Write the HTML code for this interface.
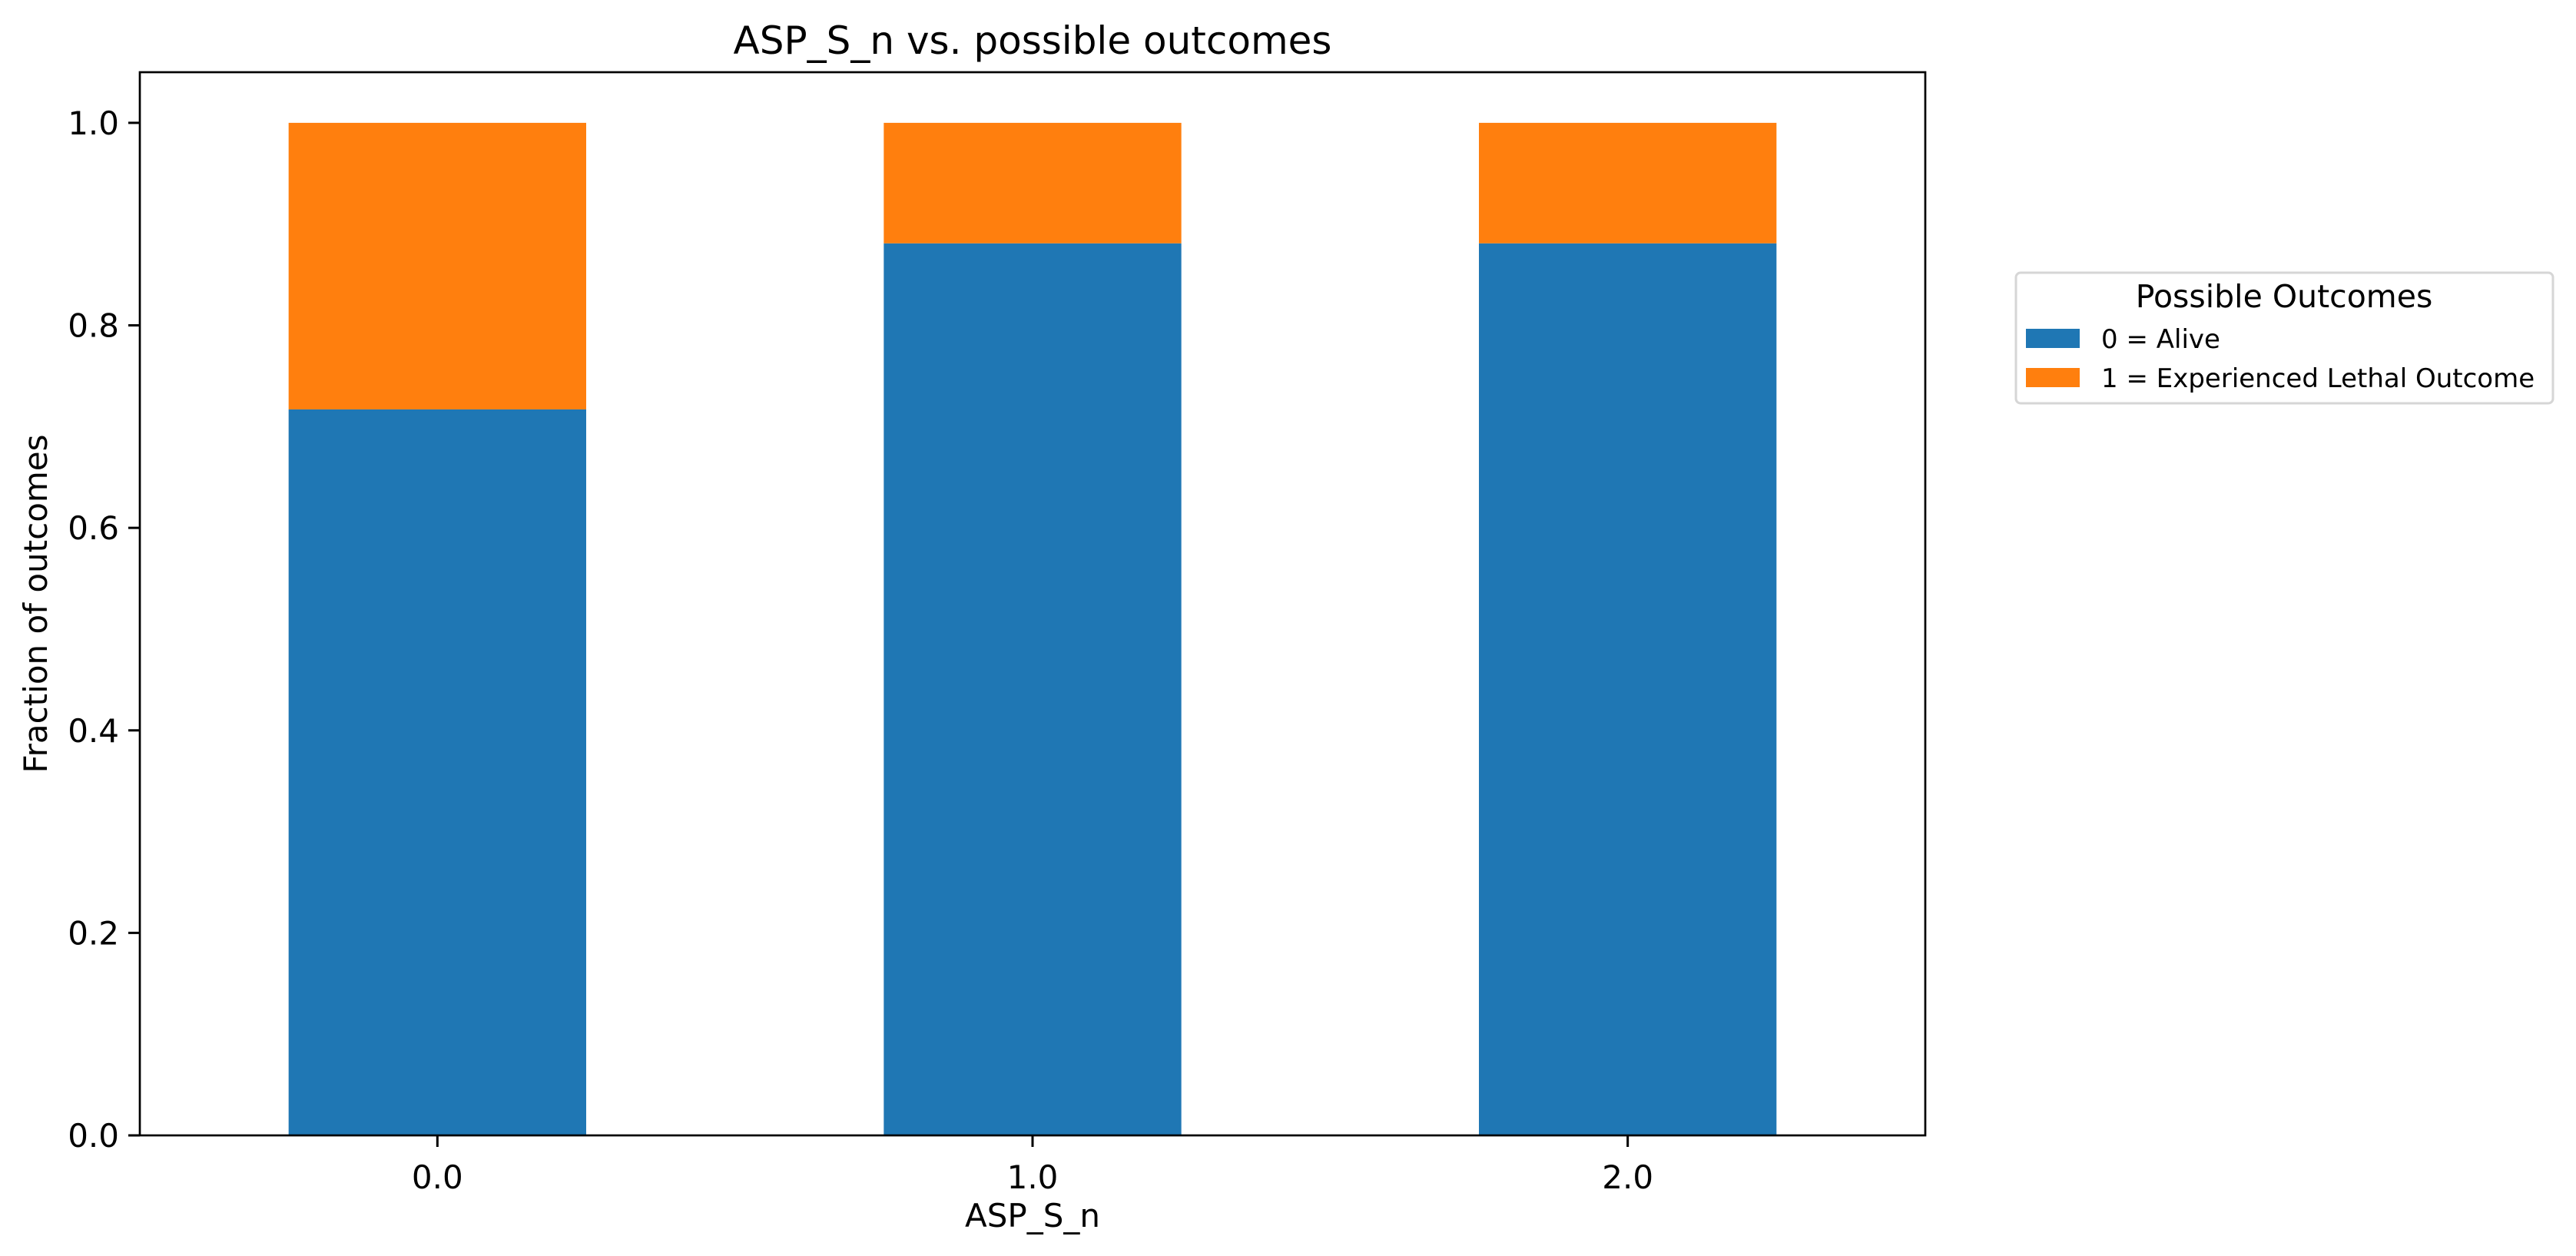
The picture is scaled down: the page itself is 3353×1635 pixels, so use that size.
<!DOCTYPE html>
<html><head><meta charset="utf-8"><style>
html,body{margin:0;padding:0;background:#fff;}
svg{display:block;font-family:"DejaVu Sans","Liberation Sans",sans-serif;}
</style></head><body>
<svg id="chart" width="3353" height="1635" viewBox="0 0 3353 1635" xmlns="http://www.w3.org/2000/svg">
<rect width="3353" height="1635" fill="#fff"/>
<g id="bars"></g>
<g id="axes"></g>
<text x="1344" y="70" font-size="50" text-anchor="middle">ASP_S_n vs. possible outcomes</text>
<text x="1344" y="1597" font-size="42" text-anchor="middle">ASP_S_n</text>
<text x="0" y="0" font-size="42" text-anchor="middle" transform="translate(61,786) rotate(-90)">Fraction of outcomes</text>
<g>
<rect x="2624" y="355" width="699" height="170" rx="6" fill="#fff" stroke="#d6d6d6" stroke-width="3"/>
<text x="2973" y="400" font-size="41" text-anchor="middle">Possible Outcomes</text>
<rect x="2637" y="428" width="70" height="25" fill="#1f77b4"/>
<text x="2735" y="453" font-size="34">0 = Alive</text>
<rect x="2637" y="479" width="70" height="25" fill="#ff7f0e"/>
<text x="2735" y="504" font-size="34">1 = Experienced Lethal Outcome</text>
</g>
</svg>
<script>
const categories = ["0.0", "1.0", "2.0"];
const aliveValues = [0.717, 0.881, 0.881];
const lethalValues = [0.283, 0.119, 0.119];
const yTicks = [0.0, 0.2, 0.4, 0.6, 0.8, 1.0];
const yTickLabels = ["0.0", "0.2", "0.4", "0.6", "0.8", "1.0"];

const NS = "http://www.w3.org/2000/svg";
const L = 182, R = 2506, T = 94, B = 1478;
const xMin = -0.5, xMax = 2.5, yMin = 0, yMax = 1.05;
function xs(v){ return L + (v - xMin) / (xMax - xMin) * (R - L); }
function ys(v){ return B - (v - yMin) / (yMax - yMin) * (B - T); }
function mk(tag, attrs, parent){ const e = document.createElementNS(NS, tag); for (const k in attrs) e.setAttribute(k, attrs[k]); parent.appendChild(e); return e; }

const barsG = document.getElementById("bars");
const axesG = document.getElementById("axes");
const bw = 0.5;
categories.forEach((c, i) => {
  const x0 = xs(i - bw/2), x1 = xs(i + bw/2);
  const a = mk("rect", {x: x0, y: ys(aliveValues[i]), width: x1 - x0, height: ys(0) - ys(aliveValues[i]), fill: "#1f77b4"}, barsG);
  
  
  const top = aliveValues[i] + lethalValues[i];
  const b = mk("rect", {x: x0, y: ys(top), width: x1 - x0, height: ys(aliveValues[i]) - ys(top), fill: "#ff7f0e"}, barsG);
  
  
  const t = mk("line", {x1: xs(i), x2: xs(i), y1: B, y2: B + 15, stroke: "#000", "stroke-width": 3}, axesG);
  
  
  const lb = mk("text", {x: xs(i), y: 1547, "font-size": 42, "text-anchor": "middle"}, axesG);
  lb.textContent = c;
  
  
});
yTicks.forEach((v, i) => {
  const t = mk("line", {x1: L - 15, x2: L, y1: ys(v), y2: ys(v), stroke: "#000", "stroke-width": 3}, axesG);
  
  
  const lb = mk("text", {x: L - 27, y: ys(v) + 15, "font-size": 42, "text-anchor": "end"}, axesG);
  lb.textContent = yTickLabels[i];
  
  
});
const frame = mk("rect", {x: L, y: T, width: R - L, height: B - T, fill: "none", stroke: "#000", "stroke-width": 2.7}, axesG);


</script>
</body></html>
